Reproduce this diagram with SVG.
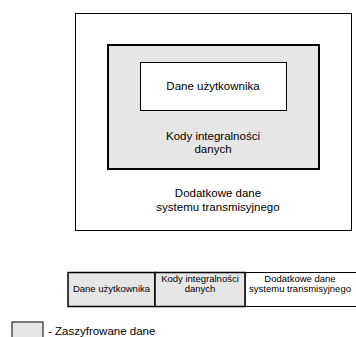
<svg xmlns="http://www.w3.org/2000/svg" width="356" height="337" viewBox="0 0 356 337">
  <style>
    text { font-family: "Liberation Sans", Arial, sans-serif; fill: #000; text-anchor: middle; }
    .big { font-size: 11.5px; }
    .small { font-size: 9.5px; }
    .enc { fill: #e6e6e6; stroke: #000; stroke-width: 2; }
    .plain { fill: #fff; stroke: #000; stroke-width: 1; }
    .cell { fill: #e6e6e6; stroke: #000; stroke-width: 1.5; }
  </style>
  <rect width="356" height="337" fill="#fff"/>

  <!-- nested frame structure -->
  <g id="transmission-frame">
    <rect class="plain" x="75.5" y="13.5" width="276" height="217"/>
    <text class="big" x="218" y="197">Dodatkowe dane</text>
    <text class="big" x="218" y="211">systemu transmisyjnego</text>
  </g>
  <g id="integrity-codes">
    <rect class="enc" x="108" y="45" width="211" height="124"/>
    <text class="big" x="213" y="140">Kody integralności</text>
    <text class="big" x="213" y="153">danych</text>
  </g>
  <g id="user-data">
    <rect class="plain" x="140.5" y="62.5" width="146" height="48"/>
    <text class="big" x="213" y="90">Dane użytkownika</text>
  </g>

  <!-- linear frame layout -->
  <g id="frame-row">
    <rect class="plain" x="245" y="272.5" width="115" height="34"/>
    <rect class="cell" x="68" y="272.5" width="87" height="34"/>
    <rect class="cell" x="155" y="272.5" width="90" height="34"/>
    <text class="small" x="111.5" y="292">Dane użytkownika</text>
    <text class="small" x="200" y="282">Kody integralności</text>
    <text class="small" x="200" y="292">danych</text>
    <text class="small" x="300" y="282">Dodatkowe dane</text>
    <text class="small" x="300" y="292">systemu transmisyjnego</text>
  </g>

  <!-- legend -->
  <g id="legend">
    <rect x="12" y="322" width="31" height="20" fill="#e6e6e6" stroke="#000" stroke-width="1"/>
    <text class="big" x="48" y="335" style="text-anchor:start">- Zaszyfrowane dane</text>
  </g>
</svg>
